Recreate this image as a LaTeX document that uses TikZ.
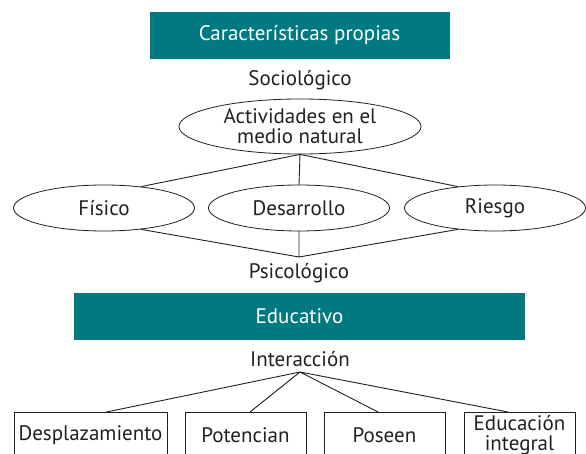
\documentclass[tikz,border=0pt]{standalone}
\usepackage{fontspec}
\setmainfont{PT Sans}
\usetikzlibrary{shapes.geometric}
\definecolor{verdeazul}{RGB}{0,122,128}
\definecolor{tinta}{RGB}{35,31,32}

\begin{document}
\begin{tikzpicture}[x=1pt,y=-1pt,cap=round,font=\fontsize{21}{22}\selectfont,
  every node/.style={text=tinta},
  banda/.style={fill=verdeazul,text=white,minimum height=47pt,inner sep=0pt},
  elipse/.style={draw=tinta,ellipse,line width=0.8pt,minimum width=181pt,minimum height=46pt,inner sep=0pt},
  caja/.style={draw=tinta,line width=0.8pt,anchor=north,minimum height=46pt,inner sep=0pt,align=center},
  enlace/.style={draw=tinta,line width=0.9pt}]
\useasboundingbox (0,0) rectangle (586,454);
% Bloque superior
  \node[banda,minimum width=300pt] (carac) at (299.5,35.5) {Características propias};
  \node (socio) at (300,80) {Sociológico};
  \node[elipse,minimum width=242pt,minimum height=55pt,align=center] (activ) at (300,126.5)
       {Actividades en el\\[-2pt]medio natural};
  \node[elipse] (fisico) at (104,208) {Físico};
  \node[elipse] (desarrollo) at (299,208) {Desarrollo};
  \node[elipse] (riesgo) at (495,208) {Riesgo};
  \coordinate (vertice) at (299,257);
  \node (psico) at (299,273) {Psicológico};
  \draw[enlace] (fisico.30) -- (activ.south) -- (riesgo.150)
    (activ.south) -- (desarrollo.north);
  \draw[enlace] (fisico.-30) -- (vertice) -- (riesgo.-150)
    (desarrollo.south) -- (vertice);
% Bloque inferior
  \node[banda,minimum width=451pt] (educ) at (299.5,316.5) {Educativo};
  \node (inter) at (300,359) {Interacción};
  \coordinate (raiz) at (300,372);
  \node[caja,minimum width=153pt] (desplaz) at (90.5,412) {Desplazamiento};
  \node[caja,minimum width=121pt] (potencian) at (245.5,412) {Potencian};
  \node[caja,minimum width=121pt] (poseen) at (384.5,412) {Poseen};
  \node[caja,minimum width=111pt] (integral) at (519.5,412) {Educación\\[-2pt]integral};
  \draw[enlace] (raiz) -- ([xshift=16pt]desplaz.north)
    (raiz) -- ([xshift=4.5pt]potencian.north)
    (raiz) -- ([xshift=-6.5pt]poseen.north)
    (raiz) -- ([xshift=-11.5pt]integral.north);
\end{tikzpicture}
\end{document}
